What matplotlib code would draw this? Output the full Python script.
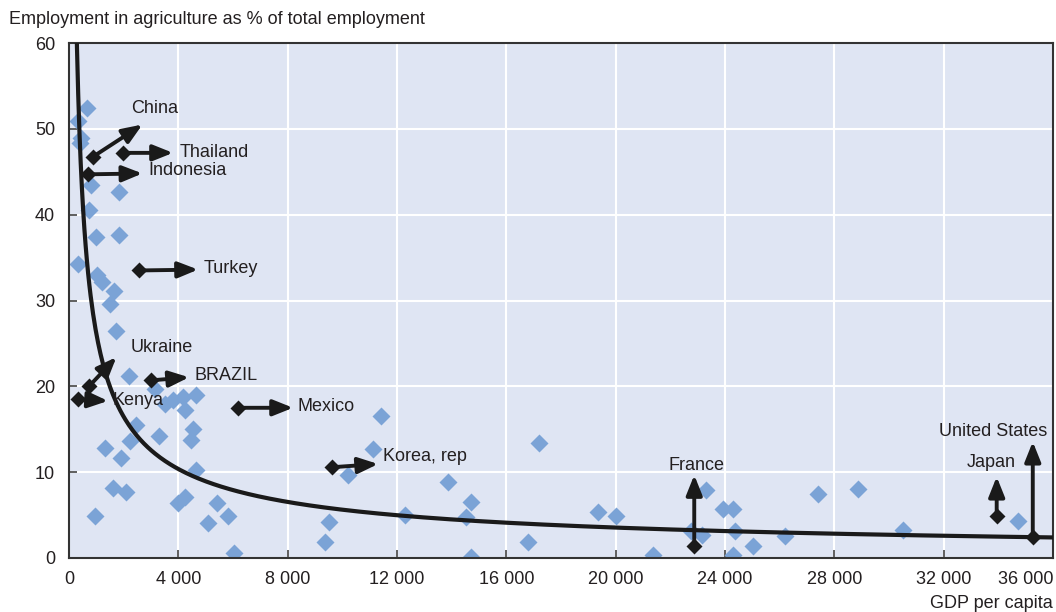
import numpy as np
import matplotlib
matplotlib.use("Agg")
import matplotlib.pyplot as plt

plt.rcParams['font.family'] = ['Liberation Sans', 'DejaVu Sans']
plt.rcParams['font.size'] = 13

# GDP per capita (USD) and agricultural share of employment (%) per country
gdp = [648, 318, 447, 410, 812, 1830, 732, 977, 1830, 329, 1014, 1197, 1647, 1490,
       1735, 2196, 3155, 3503, 3806, 4172, 4648, 4235, 2467, 3294, 2222, 1307, 1918,
       4538, 4480, 4663, 1610, 2101, 3989, 4235, 941, 5431, 5819, 5087, 6028,
       11408, 11104, 10211, 9516, 9384, 12286, 13849, 14713, 14508, 14702, 17180,
       16788, 19361, 20009, 21374, 23292, 22743, 23146, 23936, 24280, 24364, 25034,
       24280, 26206, 27402, 28877, 30524, 34711]
agri = [52.4, 50.9, 48.9, 48.4, 43.5, 42.6, 40.5, 37.4, 37.6, 34.3, 33.0, 32.2, 31.1, 29.6,
        26.4, 21.2, 19.7, 18.0, 18.4, 18.8, 19.0, 17.2, 15.5, 14.2, 13.6, 12.8, 11.6,
        15.0, 13.7, 10.2, 8.1, 7.7, 6.4, 7.1, 4.9, 6.4, 4.9, 4.1, 0.6,
        16.5, 12.7, 9.7, 4.2, 1.9, 5.0, 8.9, 6.5, 4.8, 0.15, 13.4,
        1.9, 5.4, 4.9, 0.35, 7.9, 3.1, 2.7, 5.7, 5.7, 3.1, 1.4,
        0.35, 2.6, 7.5, 8.0, 3.3, 4.3]

# power trend: share = coef * gdp ** exponent
trend_coef = 2620.0
trend_exp = -0.667

# highlighted countries: starting point and direction of change
countries = ['China', 'Thailand', 'Indonesia', 'Turkey', 'Ukraine', 'BRAZIL', 'Kenya',
             'Mexico', 'Korea, rep', 'France', 'Japan', 'United States']
start_gdp = [878, 1976, 695, 2562, 732, 3016, 329, 6185, 9604, 22875, 33940, 35260]
start_agri = [46.75, 47.2, 44.7, 33.5, 20.0, 20.7, 18.5, 17.5, 10.57, 1.4, 4.9, 2.5]
end_gdp = [2686, 3806, 2686, 4721, 1735, 4392, 1427, 8198, 11309, 22875, 33940, 35260]
end_agri = [50.5, 47.2, 44.8, 33.6, 23.4, 21.05, 18.3, 17.5, 10.95, 9.67, 9.47, 13.55]

xticks = [0, 4000, 8000, 12000, 16000, 20000, 24000, 28000, 32000, 36000]
xtick_labels = ['0', '4 000', '8 000', '12 000', '16 000', '20 000', '24 000',
                '28 000', '32 000', '36 000']
yticks = [0, 10, 20, 30, 40, 50, 60]

# where each country name goes (data coords) and how it is aligned
label_pos = {
    'China': (2258, 52.4, 'left'),
    'Thailand': (4053, 47.2, 'left'),
    'Indonesia': (2917, 45.1, 'left'),
    'Turkey': (4930, 33.7, 'left'),
    'Ukraine': (2258, 24.5, 'left'),
    'BRAZIL': (4600, 21.3, 'left'),
    'Kenya': (1600, 18.3, 'left'),
    'Mexico': (8372, 17.7, 'left'),
    'Korea, rep': (11477, 11.8, 'left'),
    'France': (22970, 10.8, 'center'),
    'Japan': (33750, 11.07, 'center'),
    'United States': (33800, 14.7, 'center'),
}

TEXT = '#231f20'
DARK = '#1a1a1a'

fig = plt.figure(figsize=(10.56, 6.12), dpi=100)
ax = fig.add_axes([69 / 1056, 54 / 612, 984 / 1056, 515 / 612])
ax.set_facecolor('#dfe5f3')

ax.plot(gdp, agri, ls='none', marker='D', ms=9, color='#7ba3d6', mec='none', zorder=2)

xs = np.linspace(200, 36500, 800)
ax.plot(xs, trend_coef * xs ** trend_exp, color=DARK, lw=3, zorder=3)

for name, x0, y0, x1, y1 in zip(countries, start_gdp, start_agri, end_gdp, end_agri):
    ax.annotate('', xy=(x1, y1), xytext=(x0, y0),
                arrowprops=dict(arrowstyle='-|>,head_length=0.4,head_width=0.16',
                                mutation_scale=30, lw=2.8, color=DARK,
                                shrinkA=0, shrinkB=0),
                zorder=4)
    ax.plot(x0, y0, marker='D', ms=8.5, color=DARK, mec='none', zorder=5)
    lx, ly, ha = label_pos[name]
    ax.text(lx, ly, name, ha=ha, va='center', color=TEXT, zorder=6)

ax.set_xlim(0, 36000)
ax.set_ylim(0, 60)
ax.set_xticks(xticks, xtick_labels)
ax.set_yticks(yticks)
ax.get_xticklabels()[-1].set_horizontalalignment('right')
ax.grid(True, color='white', lw=1.5)
ax.set_axisbelow(True)
ax.tick_params(direction='in', length=6, width=1.2, colors='#444444',
               labelcolor=TEXT, labelsize=13)
ax.tick_params(axis='x', pad=9)
ax.tick_params(axis='y', pad=10)
for sp in ax.spines.values():
    sp.set_color('#333333')
    sp.set_linewidth(1.5)

fig.text(9 / 1056, 1 - 19 / 612, 'Employment in agriculture as % of total employment',
         ha='left', va='center', color=TEXT, fontsize=13)
fig.text(1053 / 1056, 9 / 612, 'GDP per capita', ha='right', va='center',
         color=TEXT, fontsize=13)

fig.savefig('out.png', dpi=100)
